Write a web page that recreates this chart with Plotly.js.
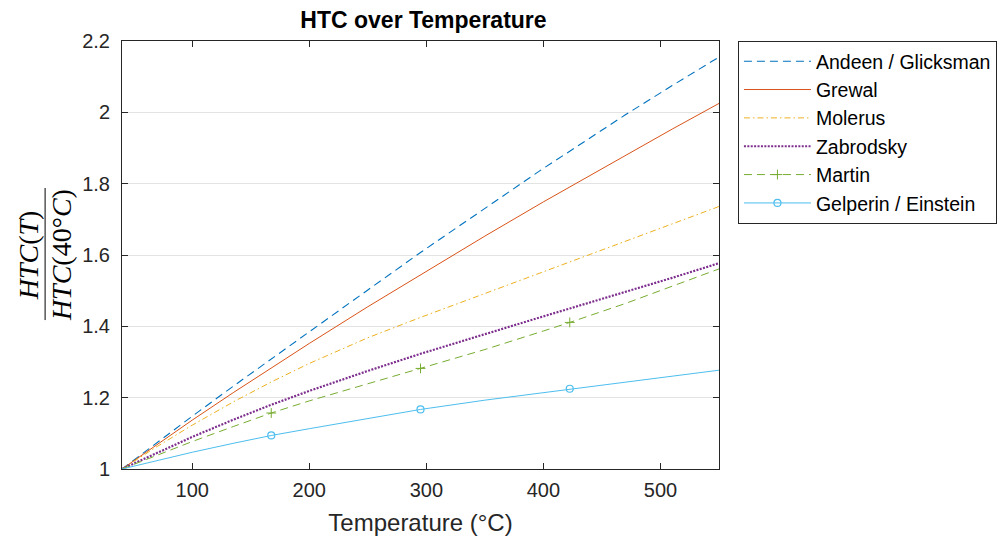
<!DOCTYPE html>
<html>
<head>
<meta charset="utf-8">
<script src="https://cdn.plot.ly/plotly-3.0.1.min.js"></script>
<style>
  html, body { margin: 0; padding: 0; background: #ffffff; }
  #chart { width: 1008px; height: 543px; }
</style>
</head>
<body>
<div id="chart"></div>
<script>
// Temperatures (°C) at which each correlation is evaluated
const temperature = [40, 70, 100, 135, 167.5, 200, 250, 295, 350, 400, 422.5, 470, 510, 550];

// HTC(T) / HTC(40 °C) for each correlation
const andeenGlicksman  = [1, 1.075, 1.148, 1.232, 1.309, 1.385, 1.502, 1.607, 1.731, 1.843, 1.891, 1.993, 2.075, 2.155];
const grewal           = [1, 1.069, 1.137, 1.214, 1.283, 1.352, 1.455, 1.545, 1.653, 1.749, 1.791, 1.880, 1.953, 2.025];
const molerus          = [1, 1.063, 1.123, 1.188, 1.244, 1.296, 1.368, 1.425, 1.492, 1.553, 1.580, 1.639, 1.688, 1.736];
const zabrodsky        = [1, 1.046, 1.090, 1.138, 1.180, 1.219, 1.275, 1.323, 1.379, 1.428, 1.450, 1.496, 1.536, 1.577];
const martin           = [1, 1.039, 1.077, 1.119, 1.157, 1.191, 1.239, 1.282, 1.335, 1.387, 1.411, 1.464, 1.512, 1.561];
const gelperinEinstein = [1, 1.024, 1.047, 1.072, 1.094, 1.113, 1.142, 1.167, 1.193, 1.214, 1.225, 1.245, 1.261, 1.277];

// Samples that carry a marker on the Martin and Gelperin / Einstein curves
const markerIndices = [4, 7, 10];

const seriesNames = ["Andeen / Glicksman", "Grewal", "Molerus", "Zabrodsky", "Martin", "Gelperin / Einstein"];

const yTickVals = [1, 1.2, 1.4, 1.6, 1.8, 2, 2.2];
const yTickText = ["1", "1.2", "1.4", "1.6", "1.8", "2", "2.2"];
const xTickVals = [100, 200, 300, 400, 500];
const xTickText = ["100", "200", "300", "400", "500"];

const styles = [
  { line: { color: "#0072BD", width: 1.1, dash: "8px,5px" } },
  { line: { color: "#D95319", width: 1, dash: "solid" } },
  { line: { color: "#EDB120", width: 1, dash: "6px,3px,1.5px,3px" } },
  { line: { color: "#7E2F8E", width: 2.2, dash: "2px,1.4px" } },
  { line: { color: "#77AC30", width: 1, dash: "8px,5px" },
    marker: { symbol: "cross-thin-open", size: 7, color: "#77AC30", line: { color: "#77AC30", width: 1 } } },
  { line: { color: "#4DBEEE", width: 1, dash: "solid" },
    marker: { symbol: "circle-open", size: 7, color: "#4DBEEE", line: { color: "#4DBEEE", width: 1.2 } } }
];

const values = [andeenGlicksman, grewal, molerus, zabrodsky, martin, gelperinEinstein];

const traces = [];
// full curves
values.forEach((ys, i) => {
  traces.push({
    x: temperature, y: ys, type: "scatter", mode: "lines",
    line: styles[i].line, showlegend: false, hoverinfo: "skip"
  });
});
// markers placed on the curves
values.forEach((ys, i) => {
  if (!styles[i].marker) return;
  traces.push({
    x: markerIndices.map(k => temperature[k]),
    y: markerIndices.map(k => ys[k]),
    type: "scatter", mode: "markers",
    marker: styles[i].marker, showlegend: false, hoverinfo: "skip"
  });
});
// legend entries
values.forEach((ys, i) => {
  const entry = {
    x: [null], y: [null], type: "scatter",
    mode: styles[i].marker ? "lines+markers" : "lines",
    name: seriesNames[i], line: styles[i].line
  };
  if (styles[i].marker) entry.marker = styles[i].marker;
  traces.push(entry);
});

const axisColor = "#262626";
const font = "Liberation Sans, Arial, sans-serif";
const serif = "Liberation Serif, Times New Roman, serif";

const layout = {
  width: 1008, height: 543,
  margin: { l: 122, r: 288, t: 41, b: 74 },
  paper_bgcolor: "#ffffff", plot_bgcolor: "#ffffff",
  font: { family: font, color: axisColor, size: 20 },
  title: {
    text: "<b>HTC over Temperature</b>",
    font: { family: font, size: 23, color: "#000000" },
    xref: "paper", x: 0.505, xanchor: "center",
    yref: "container", y: 0.963, yanchor: "middle"
  },
  xaxis: {
    range: [40, 550], tickmode: "array", tickvals: xTickVals, ticktext: xTickText,
    ticks: "inside", ticklen: 6, tickcolor: axisColor, tickwidth: 1,
    showline: true, linecolor: axisColor, linewidth: 1, mirror: "ticks",
    showgrid: false, zeroline: false, ticklabelstandoff: 3,
    tickfont: { family: font, size: 20, color: axisColor },
    title: { text: "Temperature (°C)", font: { family: font, size: 24, color: axisColor }, standoff: 14 }
  },
  yaxis: {
    range: [1, 2.2], tickmode: "array", tickvals: yTickVals, ticktext: yTickText,
    ticks: "inside", ticklen: 6, tickcolor: axisColor, tickwidth: 1,
    showline: true, linecolor: axisColor, linewidth: 1, mirror: "ticks",
    showgrid: true, gridcolor: "#e3e3e3", gridwidth: 1, zeroline: false,
    ticklabelstandoff: 7,
    tickfont: { family: font, size: 20, color: axisColor }
  },
  legend: {
    x: 1.03, xanchor: "left", y: 1, yanchor: "top",
    bgcolor: "#ffffff", bordercolor: axisColor, borderwidth: 1,
    font: { family: font, size: 19.5, color: "#000000" },
    itemwidth: 67
  },
  annotations: [
    { xref: "paper", yref: "paper", x: -0.157, y: 0.5, xanchor: "center", yanchor: "middle",
      textangle: -90, showarrow: false,
      text: "<i>HTC</i>(<i>T</i>)",
      font: { family: serif, size: 28, color: "#000000" } },
    { xref: "paper", yref: "paper", x: -0.102, y: 0.5, xanchor: "center", yanchor: "middle",
      textangle: -90, showarrow: false,
      text: "<i>HTC</i>(40°<i>C</i>)",
      font: { family: serif, size: 28, color: "#000000" } }
  ],
  shapes: [
    { type: "line", xref: "paper", yref: "paper", x0: -0.1288, x1: -0.1288, y0: 0.348, y1: 0.6565,
      line: { color: "#000000", width: 1 } }
  ]
};

Plotly.newPlot("chart", traces, layout, { staticPlot: true, displayModeBar: false });
</script>
</body>
</html>
